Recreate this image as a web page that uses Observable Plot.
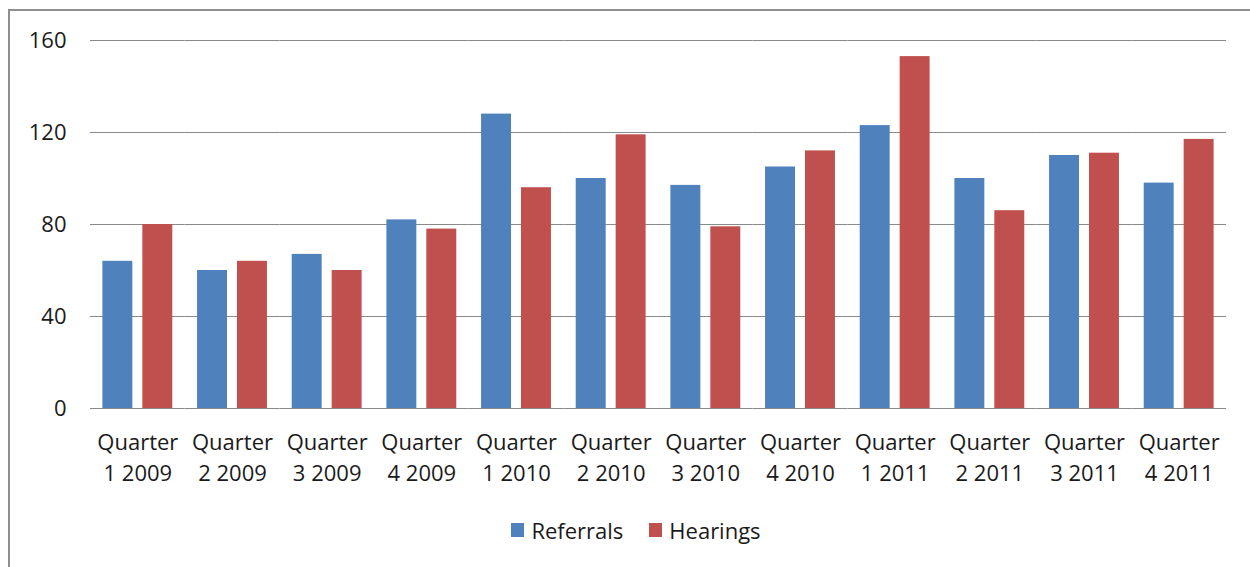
<!DOCTYPE html>
<html>
<head>
<meta charset="utf-8">
<script src="https://cdn.jsdelivr.net/npm/d3@7"></script>
<script src="https://cdn.jsdelivr.net/npm/@observablehq/plot@0.6"></script>
<style>
  html, body { margin: 0; padding: 0; background: #fff; overflow: hidden; width: 1250px; height: 567px; }
  body { font-family: "Open Sans", sans-serif; color: #1a1a1a; position: relative; }
  #frame { position: absolute; left: 8px; top: 9px; width: 1400px; height: 700px; border: 2px solid #8f8f8f; box-sizing: border-box; }
  #chart { position: absolute; left: 0; top: 0; }
  #legend { position: absolute; left: 0; top: 515px; width: 1272px; display: flex; justify-content: center; align-items: center; font-size: 22px; gap: 26px; }
  .item { display: flex; align-items: center; gap: 7px; }
  .sw { width: 13px; height: 14px; display: inline-block; }
</style>
</head>
<body>
<div id="frame"></div>
<div id="chart"></div>
<div id="legend"></div>
<script>
const quarters = ["Quarter 1 2009","Quarter 2 2009","Quarter 3 2009","Quarter 4 2009",
                  "Quarter 1 2010","Quarter 2 2010","Quarter 3 2010","Quarter 4 2010",
                  "Quarter 1 2011","Quarter 2 2011","Quarter 3 2011","Quarter 4 2011"];
const seriesNames = ["Referrals", "Hearings"];
const referrals = [64, 60, 67, 82, 128, 100, 97, 105, 123, 100, 110, 98];
const hearings  = [80, 64, 60, 78, 96, 119, 79, 112, 153, 86, 111, 117];
const seriesColors = ["#4F81BD", "#C0504D"];
const yTicks = [0, 40, 80, 120, 160];

const data = [];
quarters.forEach((q, i) => {
  data.push({quarter: q, series: seriesNames[0], value: referrals[i]});
  data.push({quarter: q, series: seriesNames[1], value: hearings[i]});
});

const plot = Plot.plot({
  width: 1250,
  height: 500,
  marginTop: 40,
  marginBottom: 92,
  marginLeft: 90,
  marginRight: 24,
  style: {fontFamily: "Open Sans, sans-serif", fontSize: "22px", color: "#1a1a1a", background: "transparent"},
  fx: {domain: quarters, padding: 0, round: false},
  x: {domain: seriesNames, paddingInner: 0.25, paddingOuter: 0.31, round: false, axis: null},
  y: {domain: [0, 160]},
  color: {domain: seriesNames, range: seriesColors},
  marks: [
    Plot.gridY(yTicks, {stroke: "#8a8a8a", strokeOpacity: 1, strokeWidth: 1}),
    Plot.barY(data, {fx: "quarter", x: "series", y: "value", fill: "series"}),
    Plot.axisY(yTicks, {tickSize: 0, tickPadding: 24, label: null, fontSize: 22}),
    Plot.axisFx({anchor: "bottom", tickSize: 0, tickPadding: 19, label: null, fontSize: 22,
                 lineHeight: 1.41, tickFormat: d => d.replace(" ", "\n")})
  ]
});
document.getElementById("chart").appendChild(plot);

const color = plot.scale("color");
const legend = document.getElementById("legend");
seriesNames.forEach(name => {
  const item = document.createElement("div");
  item.className = "item";
  const sw = document.createElement("span");
  sw.className = "sw";
  sw.style.background = color.apply(name);
  const label = document.createElement("span");
  label.textContent = name;
  item.appendChild(sw);
  item.appendChild(label);
  legend.appendChild(item);
});
</script>
</body>
</html>
